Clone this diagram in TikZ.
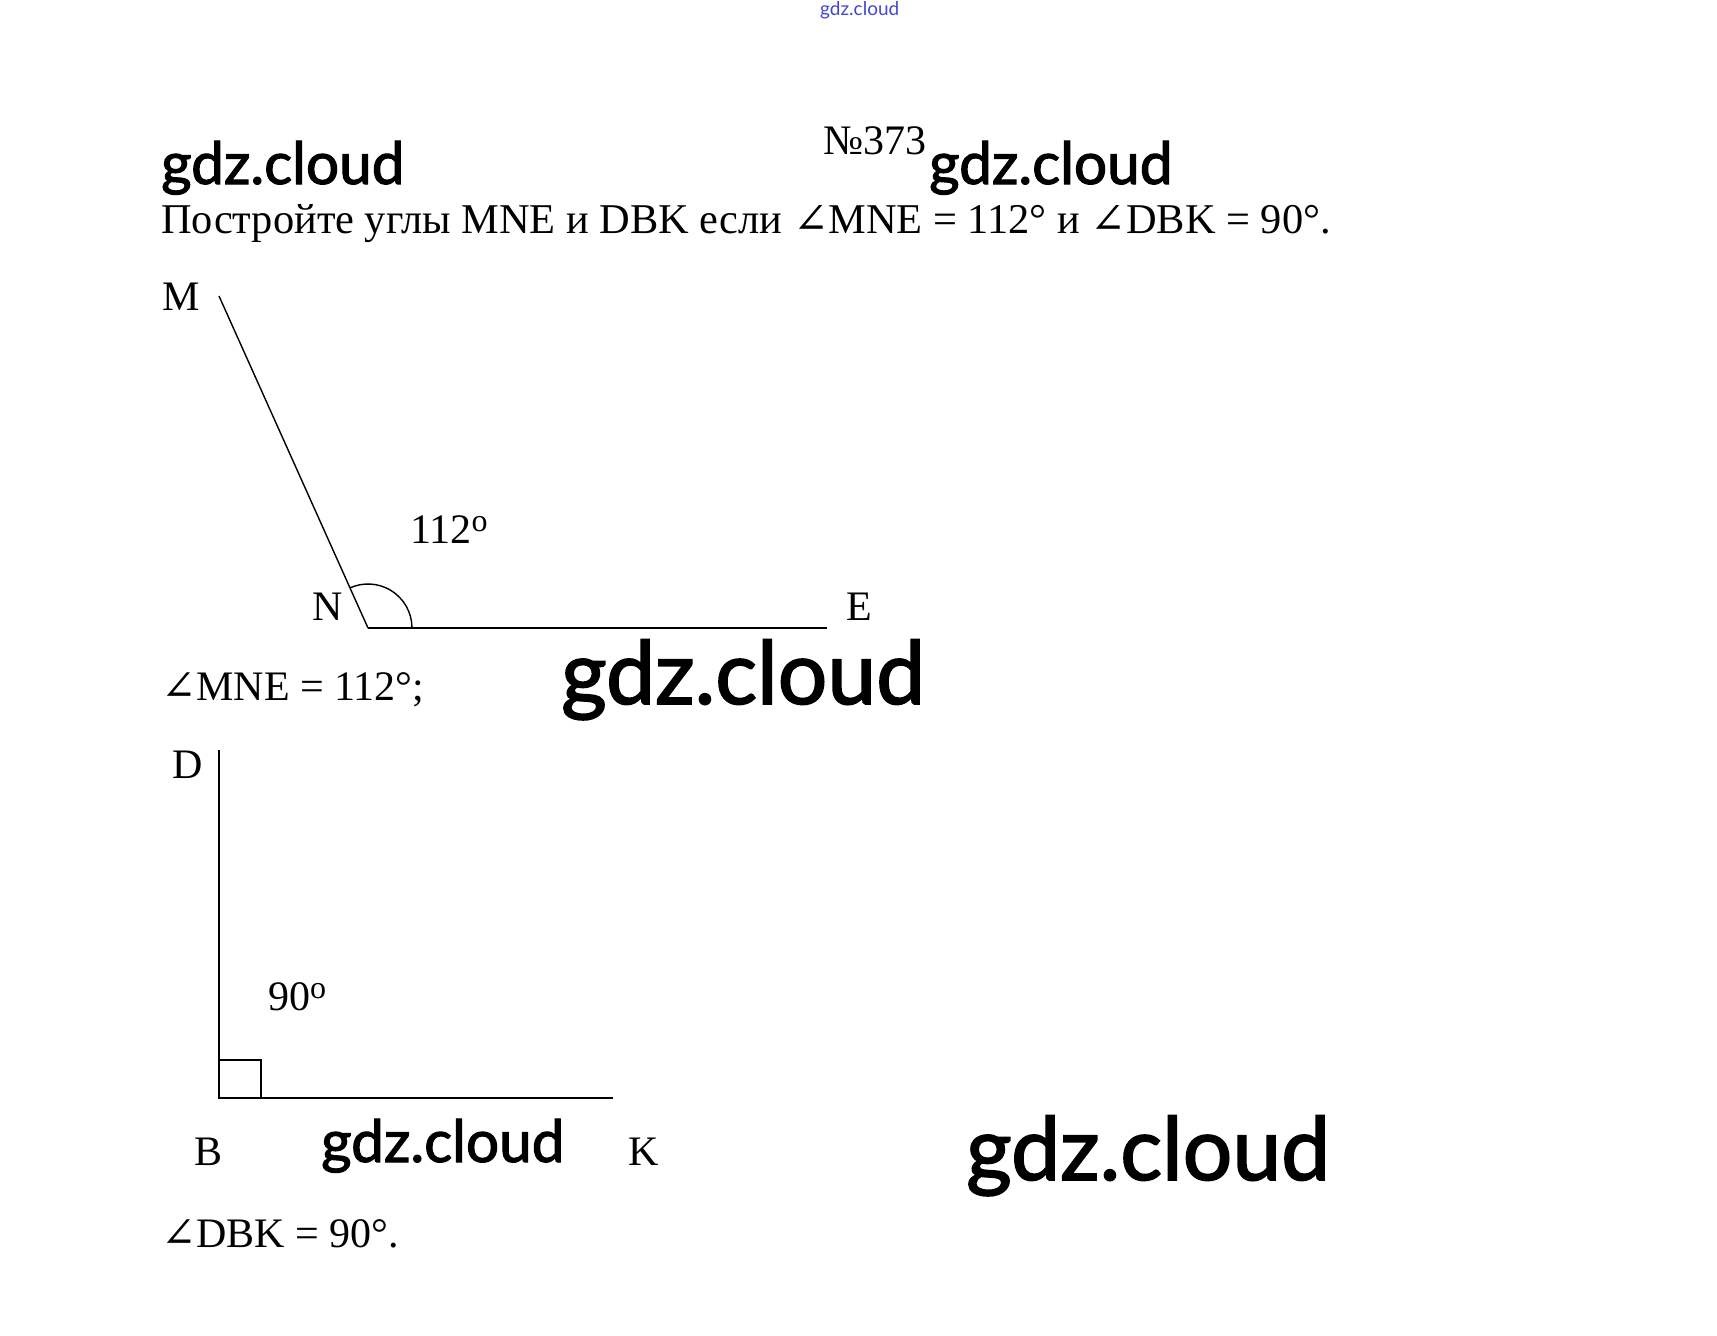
\documentclass[tikz,border=0pt]{standalone}
\usepackage{fontspec}
\setmainfont{Liberation Serif}
\newfontfamily\wmfont[FakeBold=1.9]{Lato}
\newfontfamily\wmthin{Lato}
\newfontfamily\symfont{DejaVu Serif}
\newcommand{\ang}{{\symfont ∠}}
\newcommand{\supo}{\raisebox{12pt}{\fontsize{32}{32}\selectfont o}}
\begin{document}
\begin{tikzpicture}[x=1pt,y=-1pt,
  lbl/.style={inner sep=0pt, anchor=base west, font=\fontsize{42}{48}\selectfont},
  wmk/.style={inner sep=0pt, anchor=base west, font=\wmfont\fontsize{58.5}{60}\selectfont},
  wmkbig/.style={inner sep=0pt, anchor=base west, font=\wmfont\fontsize{87.5}{90}\selectfont},
  thinline/.style={line width=1.4pt},
  thickline/.style={line width=2.6pt}]
\useasboundingbox[fill=white] (0,0) rectangle (1717,1336);
% watermarks
\node[inner sep=0pt, anchor=base west, text={rgb,255:red,70;green,70;blue,210}, font=\wmthin\fontsize{19}{20}\selectfont] (w0) at (820,15) {gdz.cloud};
\node[wmk] (w1) at (161,184) {gdz.cloud};
\node[wmk] (w2) at (929,184) {gdz.cloud};
\node[wmkbig] (w3) at (561,704) {gdz.cloud};
\node[wmk] (w4) at (321,1162) {gdz.cloud};
\node[wmkbig] (w5) at (966,1180) {gdz.cloud};
% texts
\node[lbl] (num) at (823,154) {№373};
\node[lbl, font=\fontsize{42.4}{48}\selectfont] (task) at (161,233) {Постройте углы MNE и DBK если \ang MNE = 112° и \ang DBK = 90°.};
\node[lbl] (res1) at (161,700) {\ang MNE = 112°;};
\node[lbl] (res2) at (161,1247) {\ang DBK = 90°.};
% first angle
\coordinate (M) at (219,296);
\coordinate (N) at (368,628);
\coordinate (E) at (827,628);
\draw[thinline] (M) -- (N);
\draw[thickline] (N) -- (E);
\draw[thinline] ([xshift=44pt]N) arc[start angle=0, end angle=-114, radius=44];
\node[lbl] (lM) at (162,310) {M};
\node[lbl] (lN) at (312,620) {N};
\node[lbl] (lE) at (846,620) {E};
\node[lbl] (a1) at (410,543) {112\supo};
% second angle
\coordinate (D) at (219,750);
\coordinate (B) at (219,1098);
\coordinate (K) at (613,1098);
\draw[thickline] (D) -- (B) -- (K);
\draw[line width=2pt] (B) rectangle ([xshift=42pt,yshift=38pt]B);
\node[lbl] (lD) at (172,778) {D};
\node[lbl] (lB) at (194,1165) {B};
\node[lbl] (lK) at (628,1165) {K};
\node[lbl] (a2) at (268,1010) {90\supo};
\end{tikzpicture}
\end{document}
